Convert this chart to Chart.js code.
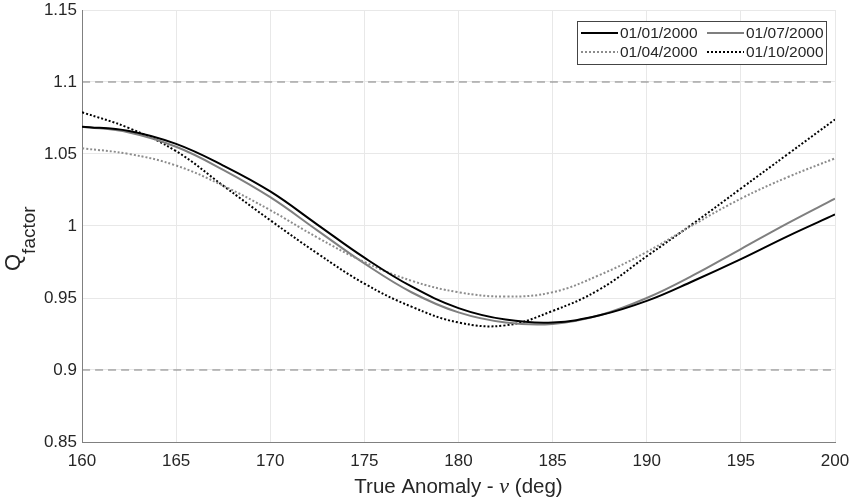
<!DOCTYPE html>
<html>
<head>
<meta charset="utf-8">
<script src="https://cdn.jsdelivr.net/npm/chart.js@4.4.1/dist/chart.umd.min.js"></script>
<style>
  body { margin: 0; background: #fff; }
  #wrap { width: 854px; height: 500px; }
</style>
</head>
<body>
<div id="wrap"><canvas id="myChart" width="854" height="500"></canvas></div>
<script>
// true anomaly (deg)
const anomaly = [160, 162.5, 165, 167.5, 170, 172.5, 175, 177.5, 180, 182.5, 185, 187.5, 190, 192.5, 195, 197.5, 200];

// Q factor per date
const qJan = [1.069, 1.066, 1.057, 1.042, 1.024, 1.001, 0.978, 0.958, 0.943, 0.935, 0.933, 0.938, 0.948, 0.962, 0.977, 0.993, 1.008];
const qApr = [1.054, 1.050, 1.042, 1.028, 1.011, 0.992, 0.975, 0.962, 0.954, 0.951, 0.954, 0.966, 0.982, 1.001, 1.019, 1.034, 1.047];
const qJul = [1.069, 1.065, 1.055, 1.039, 1.020, 0.997, 0.974, 0.954, 0.940, 0.933, 0.932, 0.938, 0.950, 0.966, 0.984, 1.002, 1.019];
const qOct = [1.079, 1.068, 1.052, 1.028, 1.004, 0.981, 0.960, 0.944, 0.933, 0.931, 0.941, 0.956, 0.979, 1.002, 1.026, 1.050, 1.074];

const xTicks = [160, 165, 170, 175, 180, 185, 190, 195, 200];
const yTicks = [0.85, 0.9, 0.95, 1, 1.05, 1.1, 1.15];
const limits = [0.9, 1.1];

const toPoints = (vals) => vals.map((v, i) => ({ x: anomaly[i], y: v }));

const FONT = "'Liberation Sans', Arial, sans-serif";

// draws the boxed legend inside the plot (2 columns)
const boxLegend = {
  id: "boxLegend",
  afterDraw(chart) {
    const { ctx, chartArea } = chart;
    const order = [0, 2, 1, 3];
    const boxW = 249, boxH = 43;
    const bx = chartArea.right - 9 - boxW;
    const by = chartArea.top + 11;
    ctx.save();
    ctx.fillStyle = "#fff";
    ctx.fillRect(bx, by, boxW, boxH);
    ctx.strokeStyle = "#444";
    ctx.lineWidth = 1;
    ctx.strokeRect(bx + 0.5, by + 0.5, boxW, boxH);
    ctx.font = "15.5px " + FONT;
    ctx.textBaseline = "middle";
    order.forEach((di, k) => {
      const ds = chart.data.datasets[di];
      const col = k % 2, row = Math.floor(k / 2);
      const lx = bx + 4 + col * 126;
      const ly = by + 12 + row * 19;
      ctx.strokeStyle = ds.borderColor;
      ctx.lineWidth = ds.borderWidth;
      ctx.setLineDash(ds.borderDash || []);
      ctx.beginPath();
      ctx.moveTo(lx, ly);
      ctx.lineTo(lx + 37, ly);
      ctx.stroke();
      ctx.setLineDash([]);
      ctx.fillStyle = "#262626";
      ctx.fillText(ds.label, lx + 39, ly + 1);
    });
    ctx.restore();
  },
};

// axis titles with italic nu and subscript
const axisTitles = {
  id: "axisTitles",
  afterDraw(chart) {
    const { ctx, chartArea } = chart;
    ctx.save();
    ctx.fillStyle = "#262626";
    ctx.textBaseline = "alphabetic";
    const parts = [["True Anomaly - ", "20.5px " + FONT], ["\u03bd", "italic 22px 'Liberation Serif', serif"], [" (deg)", "20.5px " + FONT]];
    let total = 0;
    parts.forEach((p) => {
      ctx.font = p[1];
      total += ctx.measureText(p[0]).width;
    });
    let x = (chartArea.left + chartArea.right) / 2 - total / 2;
    parts.forEach((p) => {
      ctx.font = p[1];
      ctx.fillText(p[0], x, 493);
      x += ctx.measureText(p[0]).width;
    });

    ctx.rotate(-Math.PI / 2);
    ctx.font = "22px " + FONT;
    const qw = ctx.measureText("Q").width;
    ctx.fillText("Q", -271, 20);
    ctx.font = "19px " + FONT;
    ctx.fillText("factor", -271 + qw, 35);
    ctx.restore();
  },
};

new Chart(document.getElementById("myChart"), {
  type: "line",
  data: {
    datasets: [
      { label: "01/01/2000", data: toPoints(qJan), borderColor: "#000000", borderWidth: 2 },
      { label: "01/04/2000", data: toPoints(qApr), borderColor: "#8c8c8c", borderWidth: 2, borderDash: [2, 2] },
      { label: "01/07/2000", data: toPoints(qJul), borderColor: "#7f7f7f", borderWidth: 2 },
      { label: "01/10/2000", data: toPoints(qOct), borderColor: "#000000", borderWidth: 2, borderDash: [2, 2] },
      { label: "upper", data: [{ x: 160, y: limits[1] }, { x: 200, y: limits[1] }], borderColor: "#808080", borderWidth: 1, borderDash: [8, 5] },
      { label: "lower", data: [{ x: 160, y: limits[0] }, { x: 200, y: limits[0] }], borderColor: "#808080", borderWidth: 1, borderDash: [8, 5] },
    ],
  },
  options: {
    responsive: false,
    animation: false,
    elements: { point: { radius: 0 }, line: { tension: 0.4, fill: false } },
    layout: { padding: { top: 10, right: 19, left: 0, bottom: 0 } },
    plugins: { legend: { display: false }, tooltip: { enabled: false } },
    scales: {
      x: {
        type: "linear",
        min: 160,
        max: 200,
        afterBuildTicks: (scale) => { scale.ticks = xTicks.map((v) => ({ value: v })); },
        afterFit: (scale) => {
          scale.height = 58;
          scale.paddingLeft = 0;
          scale.paddingRight = 0;
        },
        ticks: { color: "#262626", font: { family: FONT, size: 17 }, padding: 9, maxRotation: 0 },
        grid: { color: "#e8e8e8", drawTicks: false },
        border: { color: "#808080", width: 1 },
      },
      y: {
        min: 0.85,
        max: 1.15,
        afterBuildTicks: (scale) => { scale.ticks = yTicks.map((v) => ({ value: v })); },
        afterFit: (scale) => {
          scale.width = 82;
          scale.paddingTop = 0;
          scale.paddingBottom = 0;
        },
        ticks: { color: "#262626", font: { family: FONT, size: 17 }, padding: 5, callback: (v) => String(+v.toFixed(2)) },
        grid: { color: "#e8e8e8", drawTicks: false },
        border: { color: "#808080", width: 1 },
      },
    },
  },
  plugins: [boxLegend, axisTitles],
});
</script>
</body>
</html>
